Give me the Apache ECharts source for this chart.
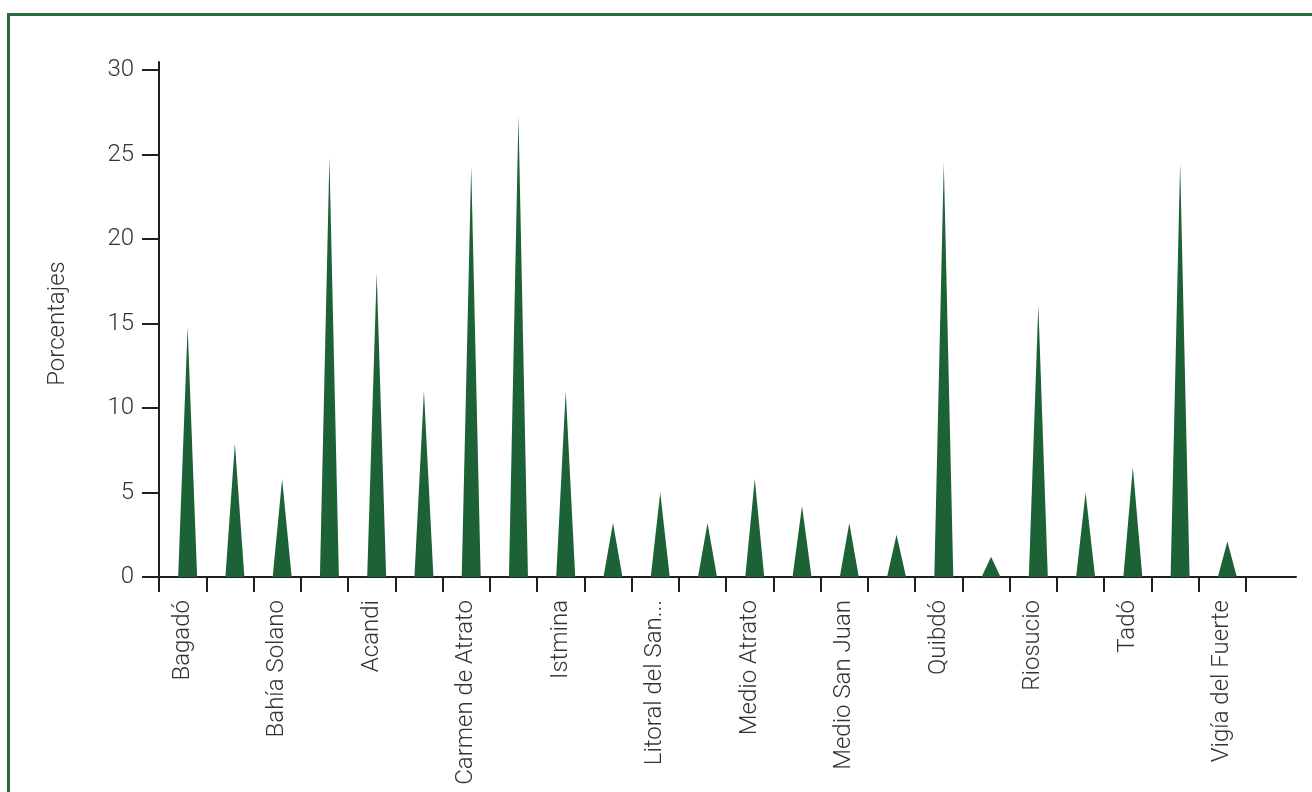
<!DOCTYPE html>
<html>
<head>
<meta charset="utf-8">
<script src="https://cdn.jsdelivr.net/npm/echarts@6/dist/echarts.min.js"></script>
<style>
html,body{margin:0;padding:0;background:#fff;}
#chart{width:1312px;height:792px;}
</style>
</head>
<body>
<div id="chart"></div>
<script>
const categories = ['Bagadó','Bojayá','Bahía Solano','Bajo Baudó','Acandi','Cértegui','Carmen de Atrato','Condoto','Istmina','Juradó','Litoral del San Juan','Lloró','Medio Atrato','Medio Baudó','Medio San Juan','Nuquí','Quibdó','Río Quito','Riosucio','Sipí','Tadó','Unguía','Vigía del Fuerte'];
const values = [14.8, 7.9, 5.8, 24.8, 18.0, 11.0, 24.3, 27.3, 11.0, 3.2, 5.0, 3.2, 5.8, 4.2, 3.2, 2.5, 24.5, 1.2, 16.1, 5.0, 6.5, 24.5, 2.1];
const yTicks = [0, 5, 10, 15, 20, 25, 30];
const yAxisName = 'Porcentajes';

const GREEN = '#1d6136';
const INK = '#231f20';
const TEXT = '#333333';
const FONT = 'Roboto';

const chart = echarts.init(document.getElementById('chart'), null, {renderer: 'canvas'});
const option = {
  animation: false,
  backgroundColor: '#ffffff',
  graphic: [{
    type: 'rect',
    shape: {x: 8.5, y: 14.5, width: 1400, height: 900},
    style: {fill: null, stroke: '#2b6a3f', lineWidth: 3},
    silent: true
  }],
  grid: [
    {left: 159, top: 70, width: 1087, height: 507, containLabel: false},
    {left: 159, top: 62, width: 1137, height: 515, containLabel: false}
  ],
  xAxis: [
    {
      type: 'category',
      gridIndex: 0,
      data: categories,
      axisLine: {show: true, lineStyle: {color: INK, width: 2}},
      axisTick: {show: true, interval: 0, length: 15, lineStyle: {color: INK, width: 2}},
      axisLabel: {
        interval: 1, rotate: 90, margin: 23,
        fontSize: 24, fontFamily: FONT, fontWeight: 300, color: TEXT,
        formatter: function (v) { return v.length > 18 ? v.slice(0, 15) + '...' : v; }
      },
      splitLine: {show: false}
    },
    {
      type: 'value', gridIndex: 1, min: 0, max: 1,
      axisLine: {show: true, onZero: false, lineStyle: {color: INK, width: 2}},
      axisTick: {show: false}, axisLabel: {show: false}, splitLine: {show: false}
    }
  ],
  yAxis: [
    {
      type: 'value', gridIndex: 0,
      min: yTicks[0], max: yTicks[yTicks.length - 1], interval: yTicks[1] - yTicks[0],
      name: yAxisName, nameLocation: 'middle', nameGap: 89,
      nameTextStyle: {fontSize: 24, fontFamily: FONT, fontWeight: 300, color: TEXT},
      axisLine: {show: true, lineStyle: {color: INK, width: 2}},
      axisTick: {show: true, length: 17, lineStyle: {color: INK, width: 2}},
      axisLabel: {margin: 25, fontSize: 24, fontFamily: FONT, fontWeight: 300, color: TEXT},
      splitLine: {show: false}
    },
    {
      type: 'value', gridIndex: 1, min: 0, max: 1,
      axisLine: {show: true, onZero: false, lineStyle: {color: INK, width: 2}},
      axisTick: {show: false}, axisLabel: {show: false}, splitLine: {show: false}
    }
  ],
  series: [{
    type: 'pictorialBar',
    xAxisIndex: 0, yAxisIndex: 0,
    data: values,
    symbol: 'triangle',
    symbolSize: [19, '100%'],
    symbolOffset: [5, 0],
    itemStyle: {color: GREEN},
    z: 5
  }]
};
chart.setOption(option);
</script>
</body>
</html>
